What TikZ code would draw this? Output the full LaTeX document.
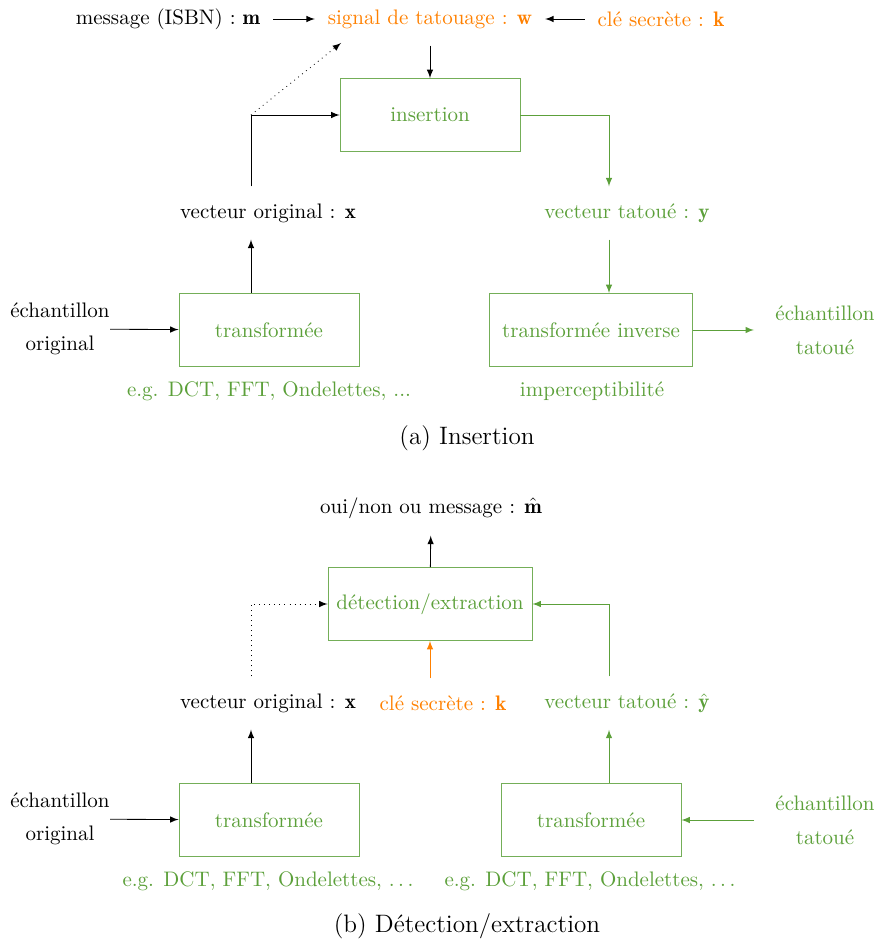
\documentclass[tikz,border=0pt]{standalone}
\usepackage{fontspec}
\definecolor{vert}{RGB}{92,160,58}
\definecolor{orng}{RGB}{255,128,0}

\begin{document}
\begin{tikzpicture}[x=0.01674cm,y=-0.01674cm,>=latex,
  lbl/.style={inner xsep=6pt,inner ysep=8pt},
  boite/.style={draw=vert!85,text=vert,minimum width=3.013cm,minimum height=1.222cm},
  ech/.style={align=center,inner sep=0pt}]
\useasboundingbox (0,0) rectangle (876,941);
% (a) insertion
\node[lbl] (msg) at (168,19) {message (ISBN) : $\mathbf{m}$};
\node[lbl,text=orng] (sig) at (430,19) {signal de tatouage : $\mathbf{w}$};
\node[lbl,text=orng] (cle) at (661,19) {clé secrète : $\mathbf{k}$};
\node[boite] (ins) at (430,115) {insertion};
\node[lbl] (vx) at (268,213) {vecteur original : $\mathbf{x}$};
\node[lbl,text=vert] (vy) at (627,213) {vecteur tatoué : $\mathbf{y}$};
\node[boite] (tr1) at (269,330) {transformée};
\node[boite,minimum width=3.398cm] (tinv) at (591,330) {transformée inverse};
\node[ech] (eo1) at (60,329) {échantillon\\[4pt]original};
\node[ech,text=vert] (et1) at (825,330) {échantillon\\[4pt]tatoué};
\node[text=vert] (eg1) at (269,391) {e.g. DCT, FFT, Ondelettes, ...};
\node[text=vert] (imp) at (592,391) {imperceptibilité};
\node[font=\large] (capa) at (467,438) {(a) Insertion};
\coordinate (cx) at (251,115);
\coordinate (ty) at (609,115);
\coordinate (wx) at (341,43);
\draw[->] (msg) -- (sig);
\draw[->] (cle) -- (sig);
\draw[->] (sig) -- (ins);
\draw[->] (vx.north -| cx) -- (cx) -- (ins.west);
\draw[->,dotted] (cx) -- (wx);
\draw[->,vert] (ins.east) -- (ty) -- (vy.north -| ty);
\draw[->,vert] (vy.south -| ty) -- (tinv.north -| ty);
\draw[->] (tr1.north -| cx) -- (vx.south -| cx);
\draw[->] (eo1) -- (tr1);
\draw[->,vert,shorten >=10pt] (tinv) -- (et1);
% (b) detection/extraction
\node[lbl] (oui) at (431,508) {oui/non ou message : $\hat{\mathbf{m}}$};
\node[boite,minimum width=3.415cm] (det) at (430,604) {détection/extraction};
\node[lbl] (vx2) at (268,703) {vecteur original : $\mathbf{x}$};
\node[lbl,text=orng] (cle2) at (443,703) {clé secrète : $\mathbf{k}$};
\node[lbl,text=vert] (vy2) at (627,703) {vecteur tatoué : $\hat{\mathbf{y}}$};
\node[boite] (tr3) at (269,820) {transformée};
\node[boite] (tr4) at (591,820) {transformée};
\node[ech] (eo2) at (60,819) {échantillon\\[4pt]original};
\node[ech,text=vert] (et2) at (825,820) {échantillon\\[4pt]tatoué};
\node[text=vert] (eg2) at (268,881) {e.g. DCT, FFT, Ondelettes, $\ldots$};
\node[text=vert] (eg3) at (590,881) {e.g. DCT, FFT, Ondelettes, $\ldots$};
\node[font=\large] (capb) at (467,926) {(b) Détection/extraction};
\coordinate (dx) at (251,604);
\coordinate (dy) at (609,604);
\draw[->] (det) -- (oui);
\draw[->,dotted] (vx2.north -| dx) -- (dx) -- (det.west);
\draw[->,orng] (cle2.north -| det) -- (det.south);
\draw[->,vert] (vy2.north -| dy) -- (dy) -- (det.east);
\draw[->] (tr3.north -| dx) -- (vx2.south -| dx);
\draw[->,vert] (tr4.north -| dy) -- (vy2.south -| dy);
\draw[->] (eo2) -- (tr3);
\draw[->,vert,shorten <=10pt] (et2) -- (tr4);
\end{tikzpicture}
\end{document}
